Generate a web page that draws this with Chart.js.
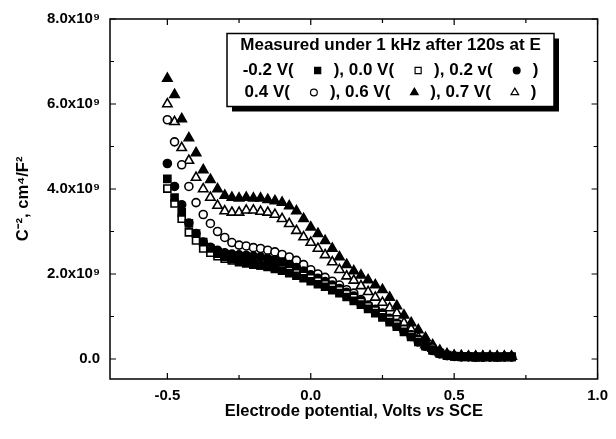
<!DOCTYPE html>
<html><head><meta charset="utf-8">
<script src="https://cdn.jsdelivr.net/npm/chart.js@4.4.1/dist/chart.umd.min.js"></script>
<style>html,body{margin:0;padding:0;background:#fff;}</style>
</head><body>
<canvas id="c" width="616" height="439"></canvas>
<script>
// Electrode potential (V vs SCE)
const potentials = [-0.5,-0.475,-0.45,-0.425,-0.4,-0.375,-0.35,-0.325,-0.3,-0.275,-0.25,-0.225,-0.2,-0.175,-0.15,-0.125,-0.1,-0.075,-0.05,-0.025,0.0,0.025,0.05,0.075,0.1,0.125,0.15,0.175,0.2,0.225,0.25,0.275,0.3,0.325,0.35,0.375,0.4,0.425,0.45,0.475,0.5,0.525,0.55,0.575,0.6,0.625,0.65,0.675,0.7];
// C^-2 values in units of 1e9 cm^4/F^2
const s_m02 = [4.24,3.80,3.45,3.19,2.95,2.75,2.60,2.48,2.40,2.35,2.30,2.27,2.24,2.20,2.17,2.12,2.08,2.02,1.96,1.90,1.83,1.76,1.70,1.62,1.55,1.46,1.37,1.28,1.18,1.08,0.98,0.87,0.76,0.64,0.52,0.40,0.30,0.20,0.13,0.08,0.06,0.05,0.05,0.04,0.05,0.05,0.04,0.05,0.05];
const s_00 = [4.01,3.66,3.30,2.98,2.79,2.60,2.50,2.42,2.36,2.32,2.28,2.25,2.22,2.20,2.18,2.15,2.12,2.08,2.02,1.96,1.90,1.83,1.76,1.69,1.62,1.53,1.44,1.34,1.24,1.14,1.04,0.93,0.82,0.70,0.57,0.45,0.33,0.22,0.14,0.09,0.07,0.06,0.06,0.05,0.05,0.05,0.05,0.05,0.05];
const s_02 = [4.60,4.06,3.63,3.20,2.95,2.75,2.63,2.56,2.50,2.47,2.45,2.44,2.42,2.40,2.37,2.33,2.28,2.22,2.15,2.07,1.98,1.90,1.82,1.74,1.66,1.57,1.48,1.37,1.25,1.15,1.05,0.93,0.80,0.66,0.53,0.40,0.30,0.20,0.12,0.08,0.06,0.05,0.05,0.05,0.04,0.05,0.05,0.05,0.05];
const s_04 = [5.63,5.11,4.57,4.06,3.68,3.40,3.19,3.00,2.86,2.74,2.68,2.66,2.62,2.60,2.56,2.52,2.46,2.40,2.32,2.22,2.10,2.00,1.92,1.83,1.74,1.63,1.55,1.40,1.27,1.17,1.08,0.96,0.84,0.70,0.57,0.45,0.35,0.26,0.16,0.10,0.07,0.06,0.06,0.05,0.05,0.05,0.05,0.05,0.05];
const s_06 = [6.60,6.22,5.65,5.20,4.85,4.45,4.22,4.00,3.85,3.80,3.78,3.80,3.78,3.78,3.75,3.72,3.68,3.60,3.48,3.30,3.10,2.95,2.78,2.60,2.40,2.22,2.07,1.97,1.86,1.74,1.63,1.45,1.25,1.03,0.85,0.68,0.50,0.33,0.20,0.12,0.08,0.07,0.06,0.06,0.06,0.06,0.06,0.06,0.06];
const s_07 = [6.00,5.58,4.97,4.67,4.27,4.00,3.80,3.61,3.48,3.45,3.45,3.50,3.50,3.47,3.45,3.40,3.30,3.18,3.02,2.87,2.74,2.60,2.45,2.28,2.10,1.95,1.85,1.72,1.58,1.45,1.33,1.20,1.08,0.85,0.70,0.50,0.33,0.25,0.15,0.10,0.07,0.07,0.06,0.06,0.06,0.06,0.06,0.06,0.06];
const seriesLabels = ['-0.2 V','0.0 V','0.2 v','0.4 V','0.6 V','0.7 V'];
const seriesValues = [s_m02, s_00, s_02, s_04, s_06, s_07];
const xTickValues = [-0.5, 0.0, 0.5, 1.0];
const xMinorValues = [-0.25, 0.25, 0.75];
const yTickValues = [0, 2e9, 4e9, 6e9, 8e9];
const yMinorValues = [1e9, 3e9, 5e9, 7e9];
const legendTitle = 'Measured under 1 kHz after 120s at E';
const yTitle = 'C\u207B\u00B2, cm\u2074/F\u00B2';
const xTitleParts = [['Electrode potential, Volts ', false], ['vs', true], [' SCE', false]];

const styles = [
  {pointStyle:'rect', filled:true, r:5},
  {pointStyle:'rect', filled:false, r:5},
  {pointStyle:'circle', filled:true, r:4},
  {pointStyle:'circle', filled:false, r:4},
  {pointStyle:'triangle', filled:true, r:5.4},
  {pointStyle:'triangle', filled:false, r:5.4}
];
const FONT = "'Liberation Sans', Arial, sans-serif";

const datasets = seriesValues.map((vals, i) => ({
  label: seriesLabels[i],
  data: vals.map((v, j) => ({x: potentials[j], y: v * 1e9})),
  pointStyle: styles[i].pointStyle,
  pointRadius: styles[i].r,
  pointBorderWidth: 1.6,
  pointBorderColor: '#000',
  pointBackgroundColor: styles[i].filled ? '#000' : '#fff',
  showLine: false
}));

const framePlugin = {
  id: 'frame',
  afterDatasetsDraw(chart) {
    const {ctx, chartArea: a, scales: {x, y}} = chart;
    ctx.save();
    ctx.strokeStyle = '#000';
    ctx.lineWidth = 1.5;
    ctx.strokeRect(a.left, a.top, a.right - a.left, a.bottom - a.top);
    ctx.lineWidth = 1.2;
    ctx.beginPath();
    const xt = (v, len) => { const p = x.getPixelForValue(v); ctx.moveTo(p, a.bottom); ctx.lineTo(p, a.bottom - len); ctx.moveTo(p, a.top); ctx.lineTo(p, a.top + len); };
    const yt = (v, len) => { const p = y.getPixelForValue(v); ctx.moveTo(a.left, p); ctx.lineTo(a.left + len, p); ctx.moveTo(a.right, p); ctx.lineTo(a.right - len, p); };
    xTickValues.forEach(v => xt(v, 6));
    xMinorValues.forEach(v => xt(v, 4));
    yTickValues.forEach(v => yt(v, 6));
    yMinorValues.forEach(v => yt(v, 4));
    ctx.stroke();

    // x axis title with italic "vs"
    ctx.fillStyle = '#000';
    ctx.textBaseline = 'middle';
    ctx.textAlign = 'left';
    const fs = 16.5;
    let total = 0;
    xTitleParts.forEach(([t, it]) => { ctx.font = (it ? 'italic ' : '') + 'bold ' + fs + 'px ' + FONT; total += ctx.measureText(t).width; });
    let cx = (a.left + a.right) / 2 - total / 2;
    xTitleParts.forEach(([t, it]) => { ctx.font = (it ? 'italic ' : '') + 'bold ' + fs + 'px ' + FONT; ctx.fillText(t, cx, 411); cx += ctx.measureText(t).width; });
    ctx.restore();
  }
};

const legendPlugin = {
  id: 'customLegend',
  afterDraw(chart) {
    const {ctx, chartArea: a} = chart;
    const bx = a.left + 117, by = a.top + 14.5, bw = 327, bh = 73;
    ctx.save();
    ctx.fillStyle = '#000';
    ctx.fillRect(bx + 5, by + 5, bw, bh);
    ctx.fillStyle = '#fff';
    ctx.fillRect(bx, by, bw, bh);
    ctx.strokeStyle = '#000';
    ctx.lineWidth = 1.5;
    ctx.strokeRect(bx, by, bw, bh);
    const cx = bx + bw / 2;
    ctx.fillStyle = '#000';
    ctx.font = 'bold 17px ' + FONT;
    ctx.textBaseline = 'middle';
    ctx.textAlign = 'center';
    ctx.fillText(legendTitle, cx, by + 12);
    ctx.textAlign = 'left';
    const gapB = 24, gapA = 16;
    const legR = {rect: 4.3, circle: 3.4, triangle: 4.4};
    [[0,1,2],[3,4,5]].forEach((row, ri) => {
      const yy = by + 37 + ri * 22;
      let total = 0;
      row.forEach((idx, k) => {
        total += ctx.measureText(seriesLabels[idx] + '(').width + gapB + gapA;
        total += ctx.measureText(k < row.length - 1 ? '), ' : ')').width;
      });
      let x = cx - total / 2;
      row.forEach((idx, k) => {
        const t = seriesLabels[idx] + '(';
        ctx.fillStyle = '#000';
        ctx.fillText(t, x, yy);
        x += ctx.measureText(t).width + gapB;
        const st = styles[idx];
        ctx.fillStyle = st.filled ? '#000' : '#fff';
        ctx.strokeStyle = '#000';
        ctx.lineWidth = 1.2;
        Chart.helpers.drawPoint(ctx, {pointStyle: st.pointStyle, radius: legR[st.pointStyle], borderWidth: 1.2, rotation: 0}, x, yy);
        x += gapA;
        const c = k < row.length - 1 ? '), ' : ')';
        ctx.fillStyle = '#000';
        ctx.fillText(c, x, yy);
        x += ctx.measureText(c).width;
      });
    });
    ctx.restore();
  }
};

new Chart(document.getElementById('c'), {
  type: 'scatter',
  data: {datasets},
  options: {
    responsive: false,
    animation: false,
    devicePixelRatio: 1,
    layout: {padding: {left: 0, top: 18.5, right: 12, bottom: 0}},
    plugins: {legend: {display: false}, tooltip: {enabled: false}},
    scales: {
      x: {
        type: 'linear', min: -0.7, max: 1.0,
        afterBuildTicks: s => { s.ticks = xTickValues.map(v => ({value: v})); },
        afterFit: s => { s.height = 60; },
        grid: {display: false, drawTicks: false},
        border: {display: false},
        ticks: {color: '#000', padding: 8, font: {family: FONT, weight: 'bold', size: 15}, callback: v => Number(v).toFixed(1), maxRotation: 0},
        title: {display: false}
      },
      y: {
        type: 'linear', min: -0.47e9, max: 8e9,
        afterBuildTicks: s => { s.ticks = yTickValues.map(v => ({value: v})); },
        afterFit: s => { s.width = 110; },
        grid: {display: false, drawTicks: false},
        border: {display: false},
        ticks: {color: '#000', padding: 10, font: {family: FONT, weight: 'bold', size: 15}, callback: v => v === 0 ? '0.0' : (v / 1e9).toFixed(1) + 'x10\u2079'},
        title: {display: true, text: yTitle, color: '#000', font: {family: FONT, weight: 'bold', size: 16.5}, padding: {top: 14, bottom: 0}}
      }
    }
  },
  plugins: [framePlugin, legendPlugin]
});
</script>
</body></html>
